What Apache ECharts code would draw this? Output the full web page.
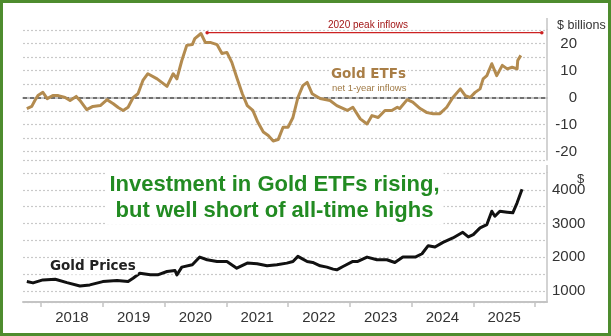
<!DOCTYPE html>
<html><head><meta charset="utf-8">
<script src="https://cdn.jsdelivr.net/npm/echarts@6/dist/echarts.min.js"></script>
<style>html,body{margin:0;padding:0;background:#fff}#c{width:611px;height:336px}</style>
</head><body><div id="c"></div>
<script>
// ---- data (decimal years) ----
const etfYears = [2017.77,2017.85,2017.90,2017.95,2018.03,2018.10,2018.19,2018.28,2018.39,2018.47,2018.57,2018.63,2018.74,2018.84,2018.96,2019.07,2019.17,2019.25,2019.33,2019.41,2019.49,2019.57,2019.65,2019.73,2019.88,2020.04,2020.14,2020.20,2020.28,2020.36,2020.45,2020.49,2020.59,2020.66,2020.74,2020.85,2020.93,2021.01,2021.09,2021.17,2021.26,2021.34,2021.43,2021.51,2021.60,2021.68,2021.76,2021.84,2021.92,2022.00,2022.08,2022.16,2022.24,2022.31,2022.39,2022.52,2022.68,2022.79,2022.96,2023.05,2023.17,2023.28,2023.36,2023.46,2023.57,2023.68,2023.77,2023.81,2023.93,2024.02,2024.14,2024.25,2024.35,2024.46,2024.57,2024.67,2024.79,2024.87,2024.95,2025.03,2025.11,2025.16,2025.22,2025.30,2025.38,2025.47,2025.55,2025.63,2025.71,2025.72,2025.77];
const etfValues = [-4.1,-3.3,-1.1,0.7,1.9,-0.4,0.7,0.7,0,-1.1,0.4,-1.1,-4.5,-3.3,-3.0,-0.8,-2.3,-3.7,-4.8,-3.6,-0.1,1.4,6.3,8.8,6.9,4.1,8.8,6.9,13.7,19.3,19.6,21.8,23.7,20.4,20.4,19.6,16.3,16.7,13.0,7.4,1.4,-3.0,-4.8,-9.1,-12.8,-14.1,-16.1,-15.6,-11,-11,-7.4,0,4.4,5.6,1.4,-0.4,-1.1,-3.0,-4.8,-3.6,-7.9,-9.8,-6.7,-7.4,-4.8,-4.8,-3.6,-4.1,-0.8,-1.7,-4.1,-5.6,-6.0,-6.0,-3.6,0,3.2,0.7,0,1.9,3.2,6.9,8.1,12.5,8.1,11.9,10.6,11.2,10.6,13.7,15.6];
const goldYears = [2017.77,2017.87,2018.03,2018.23,2018.42,2018.63,2018.79,2019.00,2019.23,2019.41,2019.49,2019.60,2019.77,2019.89,2020.04,2020.17,2020.20,2020.28,2020.45,2020.57,2020.69,2020.85,2021.01,2021.17,2021.34,2021.50,2021.66,2021.82,2021.98,2022.08,2022.16,2022.24,2022.31,2022.40,2022.52,2022.63,2022.73,2022.79,2022.89,2023.05,2023.13,2023.28,2023.44,2023.60,2023.73,2023.86,2024.06,2024.17,2024.27,2024.38,2024.51,2024.67,2024.83,2024.92,2025.00,2025.11,2025.22,2025.30,2025.35,2025.43,2025.55,2025.64,2025.71,2025.79];
const goldValues = [1278,1239,1328,1349,1248,1149,1179,1278,1308,1278,1378,1527,1478,1478,1577,1606,1478,1707,1776,2005,1925,1875,1875,1677,1826,1806,1746,1776,1826,1875,2025,1946,1875,1845,1746,1707,1647,1627,1726,1875,1875,2005,1925,1925,1845,2005,2005,2104,2343,2303,2442,2572,2740,2602,2671,2871,2970,3367,3218,3367,3337,3318,3616,4015];
const peakYears = [2020.69, 2026.11];
const peakValues = [24, 24];
const yearTicks = [2018,2019,2020,2021,2022,2023,2024,2025,2026];
const yearLabels = [2018,2019,2020,2021,2022,2023,2024,2025];

const zip = (xs, ys) => xs.map((x, i) => [x, ys[i]]);
const X_MIN = 2017.708, X_MAX = 2026.194;
const GRID = '#c9c9c9', AXIS = '#c4c4c4', LBL = '#333';

const chart = echarts.init(document.getElementById('c'), null, {renderer: 'canvas'});
chart.setOption({
  animation: false,
  backgroundColor: '#fff',
  grid: [
    {left: 23, right: 64, top: 30, height: 130},
    {left: 23, right: 64, top: 173, height: 129}
  ],
  xAxis: [
    {gridIndex: 0, type: 'value', min: X_MIN, max: X_MAX,
     axisLine: {show: true, lineStyle: {color: AXIS, width: 2}},
     axisTick: {show: false}, axisLabel: {show: false}, splitLine: {show: false}},
    {gridIndex: 1, type: 'value', min: X_MIN, max: X_MAX,
     axisLine: {show: true, onZero: false, lineStyle: {color: AXIS, width: 2}},
     axisTick: {show: true, length: 5, customValues: yearTicks, lineStyle: {color: AXIS, width: 1.5}},
     axisLabel: {show: true, customValues: yearLabels.map(y => y + 0.5), margin: 8,
       formatter: v => String(Math.floor(v)), color: LBL, fontSize: 15, fontFamily: 'Liberation Sans'},
     splitLine: {show: false}}
  ],
  yAxis: [
    {gridIndex: 0, type: 'value', position: 'right', min: -23.15, max: 25, splitNumber: 10,
     axisLine: {show: true, lineStyle: {color: AXIS, width: 1.5}},
     axisTick: {show: false},
     axisLabel: {showMinLabel: false, showMaxLabel: false, align: 'right', margin: 30,
       formatter: v => (Math.abs(v % 10) < 1e-6 ? String(v) : ''), color: LBL, fontSize: 15, fontFamily: 'Liberation Sans'},
     splitLine: {show: true, lineStyle: {color: GRID, type: [2, 2], width: 1.2}}},
    {gridIndex: 1, type: 'value', position: 'right', min: 672, max: 4500, splitNumber: 8,
     axisLine: {show: true, lineStyle: {color: AXIS, width: 1.5}},
     axisTick: {show: false},
     axisLabel: {showMinLabel: false, showMaxLabel: false, align: 'left', margin: 5,
       formatter: v => (v % 1000 === 0 ? String(v) : ''), color: LBL, fontSize: 15, fontFamily: 'Liberation Sans'},
     splitLine: {show: true, lineStyle: {color: GRID, type: [2, 2], width: 1.2}}}
  ],
  series: [
    {type: 'line', xAxisIndex: 0, yAxisIndex: 0, data: zip(etfYears, etfValues),
     showSymbol: false, z: 5,
     lineStyle: {color: '#b38b4f', width: 3, join: 'round'},
     markLine: {silent: true, symbol: 'none', label: {show: false},
       lineStyle: {color: '#555', type: [4, 3], width: 1.5}, data: [{yAxis: 0}]}},
    {type: 'line', xAxisIndex: 0, yAxisIndex: 0, data: zip(peakYears, peakValues),
     symbol: 'circle', symbolSize: 3.5, z: 6,
     itemStyle: {color: '#cc2222'}, lineStyle: {color: '#cc2222', width: 1.2}},
    {type: 'line', xAxisIndex: 1, yAxisIndex: 1, data: zip(goldYears, goldValues),
     showSymbol: false, z: 5,
     lineStyle: {color: '#111', width: 3, join: 'round'}}
  ],
  graphic: [
    {type: 'line', shape: {x1: 547, y1: 18, x2: 547, y2: 30}, style: {stroke: AXIS, lineWidth: 1.5}},
    {type: 'line', shape: {x1: 547, y1: 165, x2: 547, y2: 173}, style: {stroke: AXIS, lineWidth: 1.5}},
    {type: 'text', x: 557, y: 25.5, z: 50, style: {text: '$ billions', fill: LBL, font: '12.5px "Liberation Sans"', textVerticalAlign: 'middle'}},
    {type: 'text', x: 577, y: 179, z: 50, style: {text: '$', fill: LBL, font: '13px "Liberation Sans"', textVerticalAlign: 'middle'}},
    {type: 'text', x: 368, y: 25.5, z: 50, style: {text: '2020 peak inflows', fill: '#a31818', font: '10px "Liberation Sans"', textAlign: 'center', textVerticalAlign: 'middle'}},
    {type: 'text', x: 329, y: 74, z: 50, style: {text: 'Gold ETFs', fill: '#a97e46', font: 'bold 13.5px "DejaVu Sans"', textVerticalAlign: 'middle', backgroundColor: '#fff', padding: [2, 2]}},
    {type: 'text', x: 330, y: 88, z: 50, style: {text: 'net 1-year inflows', fill: '#a07a45', font: '9.5px "Liberation Sans"', textVerticalAlign: 'middle', backgroundColor: '#fff', padding: [1, 2]}},
    {type: 'text', x: 274.5, y: 172, z: 50, style: {text: 'Investment in Gold ETFs rising,\nbut well short of all-time highs', fill: '#228b22', font: 'bold 22px "Liberation Sans"', lineHeight: 26, textAlign: 'center', textVerticalAlign: 'top', backgroundColor: '#fff', padding: [0, 4]}},
    {type: 'text', x: 48, y: 266.5, z: 50, style: {text: 'Gold Prices', fill: '#222', font: 'bold 13.5px "DejaVu Sans"', textVerticalAlign: 'middle', backgroundColor: '#fff', padding: [1, 2]}},
    {type: 'rect', z: 100, shape: {x: 1.5, y: 1.5, width: 608, height: 333}, style: {fill: 'none', stroke: '#4e8c2e', lineWidth: 3}}
  ]
});
</script></body></html>
